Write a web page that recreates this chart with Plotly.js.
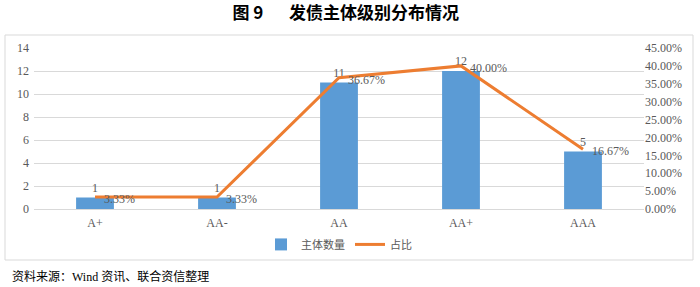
<!DOCTYPE html>
<html><head><meta charset="utf-8">
<script src="https://cdn.plot.ly/plotly-3.0.1.min.js"></script>
<style>html,body{margin:0;padding:0;background:#fff}#c{width:700px;height:287px}</style>
</head><body><div id="c"></div>
<script>
const categories = ['A+', 'AA-', 'AA', 'AA+', 'AAA'];
const counts = [1, 1, 11, 12, 5];
const shares = [0.0333, 0.0333, 0.3667, 0.40, 0.1667];
const shareLabels = ['3.33%', '3.33%', '36.67%', '40.00%', '16.67%'];
const leftTicks = [0, 2, 4, 6, 8, 10, 12, 14];
const rightTicks = [0, 0.05, 0.10, 0.15, 0.20, 0.25, 0.30, 0.35, 0.40, 0.45];

const serif = '"Liberation Serif", "Times New Roman", "DejaVu Serif", serif';
const grey = '#595959';

const traces = [
  {type: 'bar', x: categories, y: counts, name: '主体数量',
   marker: {color: '#5B9BD5'}, width: 0.31,
   text: counts.map(String), textposition: 'outside', cliponaxis: false,
   textfont: {family: serif, size: 12, color: grey}},
  {type: 'scatter', mode: 'lines', x: categories, y: shares, name: '占比', yaxis: 'y2',
   line: {color: '#ED7D31', width: 3}, cliponaxis: false}
];

const lineAnn = categories.map((c, i) => ({
  x: c, y: shares[i], xref: 'x', yref: 'y2', text: shareLabels[i],
  xanchor: 'left', yanchor: 'middle', xshift: 7, yshift: -2, showarrow: false,
  font: {family: serif, size: 12, color: grey}
}));

const layout = {
  width: 700, height: 287,
  margin: {l: 34, r: 56, t: 48, b: 78},
  paper_bgcolor: '#fff', plot_bgcolor: '#fff',
  showlegend: true,
  legend: {orientation: 'h', x: 0.5, xanchor: 'center', y: -0.22, yanchor: 'middle',
           font: {family: '"Noto Sans CJK SC"', size: 11, color: grey}},
  title: {text: '<b>图 9\u3000\u2002发债主体级别分布情况</b>', x: 0.511, xanchor: 'center', y: 0.955, yanchor: 'middle',
          xref: 'paper', font: {family: '"Noto Sans CJK SC"', size: 17, color: '#000'}},
  xaxis: {type: 'category', showline: false, showgrid: false, ticks: '', ticklabelstandoff: 5,
          tickfont: {family: serif, size: 12, color: grey}},
  yaxis: {range: [0, 14], tickvals: leftTicks, showgrid: true, gridcolor: '#d9d9d9', gridwidth: 1,
          zeroline: true, zerolinecolor: '#d9d9d9', zerolinewidth: 1, showline: false,
          tickfont: {family: serif, size: 12, color: grey}, ticklabelstandoff: 4},
  yaxis2: {overlaying: 'y', side: 'right', range: [0, 0.45], tickvals: rightTicks, tickformat: '.2%',
           showgrid: false, zeroline: false, showline: false,
           tickfont: {family: serif, size: 12, color: grey}},
  shapes: [{type: 'rect', xref: 'paper', yref: 'paper', x0: -29/610, x1: 1 + 49/610, y0: -51/161, y1: 1 + 13/161,
            line: {color: '#d9d9d9', width: 1}, fillcolor: 'rgba(0,0,0,0)', layer: 'below'}],
  annotations: lineAnn.concat([{text: '资料来源：Wind 资讯、联合资信整理', xref: 'paper', yref: 'paper',
                 x: -24/610, y: -67/161, xanchor: 'left', yanchor: 'middle', showarrow: false,
                 font: {family: '"Liberation Serif", "Noto Sans CJK SC"', size: 12, color: '#000'}}]),
  bargap: 0.69
};
Plotly.newPlot('c', traces, layout, {displayModeBar: false, staticPlot: true});
</script></body></html>
